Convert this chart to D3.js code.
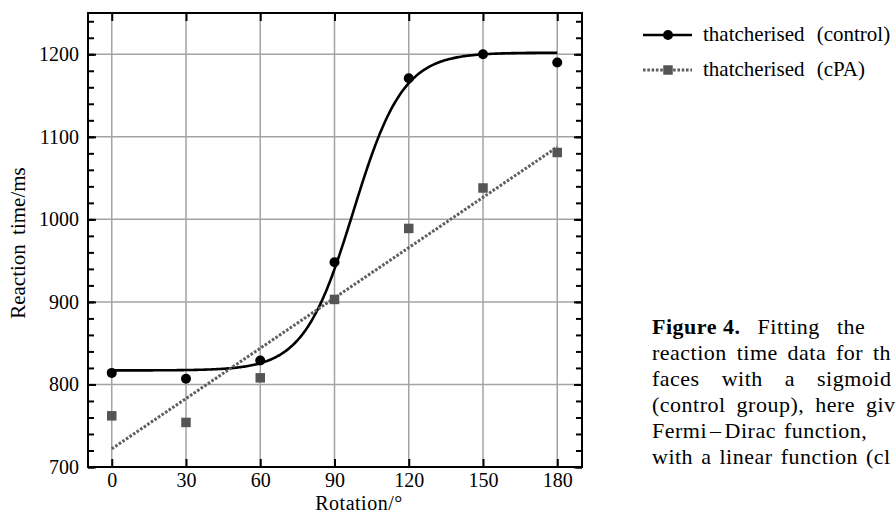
<!DOCTYPE html>
<html>
<head>
<meta charset="utf-8">
<script src="https://cdn.jsdelivr.net/npm/d3@7"></script>
<style>
  html, body { margin: 0; padding: 0; background: #fff; }
  svg { display: block; }
  svg text { font-family: "Liberation Serif", "DejaVu Serif", serif; fill: #000; }
</style>
</head>
<body>
<svg id="chart" width="896" height="517"></svg>
<script>
// ---- data ----
const rotations = [0, 30, 60, 90, 120, 150, 180];
const controlRT = [814, 807, 829, 948, 1171, 1200, 1190];
const cpaRT     = [762, 754, 808, 903, 989, 1038, 1081];
const xTicks = [0, 30, 60, 90, 120, 150, 180];
const yTicks = [700, 800, 900, 1000, 1100, 1200];
const seriesNames = ["thatcherised (control)", "thatcherised (cPA)"];
// Fermi–Dirac fit (control): base, top, midpoint, width
const fdFit = { base: 817, top: 1202, x0: 97.6, w: 10 };
// linear fit (cPA): intercept, slope
const linFit = { a: 722, b: 2.031 };
// caption lines (justified column, clipped by the right edge): words, where the last word starts
const captionLines = [
  { words: ["Figure 4.", "Fitting", "the"], last: 837, bold: 1 },
  { words: ["reaction", "time", "data", "for", "th"], last: 873 },
  { words: ["faces", "with", "a", "sigmoid"], last: 817 },
  { words: ["(control", "group),", "here", "giv"], last: 866 },
  { words: ["Fermi", "\u2013", "Dirac", "function,"], last: 784, tight: [1, 2] },
  { words: ["with", "a", "linear", "function", "(cl"], last: 866 }
];

const svg = d3.select("#chart");
const L = 88, R = 582, T = 13, B = 467;
const x = d3.scaleLinear().domain([-10, 190]).range([87, 582]);
const y = d3.scaleLinear().domain([700, 1250]).range([B, T]);

// grid
const grid = svg.append("g").attr("stroke", "#a3a3a3").attr("stroke-width", 1.5);
grid.selectAll("line.v").data(xTicks).join("line")
  .attr("x1", d => x(d)).attr("x2", d => x(d)).attr("y1", T).attr("y2", B);
grid.selectAll("line.h").data(yTicks.filter(d => d > 700)).join("line")
  .attr("x1", L).attr("x2", R).attr("y1", d => y(d)).attr("y2", d => y(d));

// axes with inward ticks
const fs = 20;
const fmt = d3.format("d");
const xAxisB = d3.axisBottom(x).tickValues(xTicks).tickSize(-8).tickPadding(6).tickFormat(fmt);
const xAxisT = d3.axisTop(x).tickValues(xTicks).tickSize(-8).tickFormat("");
const yMinor = d3.range(700, 1251, 20);
const yAxisL = d3.axisLeft(y).tickValues(yTicks).tickSize(-8).tickPadding(9).tickFormat(fmt);
const yAxisLm = d3.axisLeft(y).tickValues(yMinor).tickSize(-6).tickFormat("");
const yAxisR = d3.axisRight(y).tickValues(yTicks).tickSize(-8).tickFormat("");
const yAxisRm = d3.axisRight(y).tickValues(yMinor).tickSize(-6).tickFormat("");

function style(g) {
  g.attr("font-family", null).attr("font-size", null);
  g.select(".domain").remove();
  g.selectAll(".tick line").attr("stroke", "#000").attr("stroke-width", 2);
  g.selectAll("text").attr("fill", "#000").style("font-size", fs + "px");
}
svg.append("g").attr("transform", `translate(0,${B})`).call(xAxisB).call(style);
svg.append("g").attr("transform", `translate(0,${T})`).call(xAxisT).call(style);
svg.append("g").attr("transform", `translate(${L},0)`).call(yAxisL).call(style);
svg.append("g").attr("transform", `translate(${L},0)`).call(yAxisLm).call(style);
svg.append("g").attr("transform", `translate(${R},0)`).call(yAxisR).call(style);
svg.append("g").attr("transform", `translate(${R},0)`).call(yAxisRm).call(style);

// frame
svg.append("rect").attr("x", L).attr("y", T).attr("width", R - L).attr("height", B - T)
  .attr("fill", "none").attr("stroke", "#000").attr("stroke-width", 2);

// fits
const fdSamples = d3.range(0, 180.01, 0.5);
const fd = t => fdFit.base + (fdFit.top - fdFit.base) / (1 + Math.exp((fdFit.x0 - t) / fdFit.w));
const line = d3.line().x(d => x(d[0])).y(d => y(d[1]));
svg.append("path").datum(fdSamples.map(t => [t, fd(t)]))
  .attr("d", line).attr("fill", "none").attr("stroke", "#000").attr("stroke-width", 2.6);
svg.append("path").datum([0, 180].map(t => [t, linFit.a + linFit.b * t]))
  .attr("d", line).attr("fill", "none").attr("stroke", "#5e5e5e")
  .attr("stroke-width", 3).attr("stroke-dasharray", "2.6,1.7");

// points
const sq = 9.5;
svg.append("g").selectAll("rect").data(rotations).join("rect")
  .attr("x", (d) => x(d) - sq / 2).attr("y", (d, i) => y(cpaRT[i]) - sq / 2)
  .attr("width", sq).attr("height", sq).attr("fill", "#555");
svg.append("g").selectAll("circle").data(rotations).join("circle")
  .attr("cx", d => x(d)).attr("cy", (d, i) => y(controlRT[i])).attr("r", 5).attr("fill", "#000");

// axis titles
svg.append("text").attr("x", 359).attr("y", 510).attr("text-anchor", "middle")
  .style("font-size", "20px").style("letter-spacing", "0.5px").text("Rotation/\u00b0");
svg.append("text").attr("transform", "translate(25,243) rotate(-90)").attr("text-anchor", "middle")
  .style("font-size", "21px").style("word-spacing", "4px").text("Reaction time/ms");

// legend
const lg = svg.append("g");
const ly = [35, 70];
lg.append("line").attr("x1", 643).attr("x2", 692).attr("y1", ly[0]).attr("y2", ly[0])
  .attr("stroke", "#000").attr("stroke-width", 2.6);
lg.append("circle").attr("cx", 668).attr("cy", ly[0]).attr("r", 5).attr("fill", "#000");
lg.append("line").attr("x1", 643).attr("x2", 692).attr("y1", ly[1]).attr("y2", ly[1])
  .attr("stroke", "#5e5e5e").attr("stroke-width", 3).attr("stroke-dasharray", "2.6,1.7");
lg.append("rect").attr("x", 668 - sq / 2).attr("y", ly[1] - sq / 2).attr("width", sq).attr("height", sq).attr("fill", "#555");
lg.selectAll("text").data(seriesNames).join("text")
  .attr("x", 703).attr("y", (d, i) => ly[i] + 6).style("font-size", "21px")
  .style("word-spacing", "7px").text(d => d);

// caption: justified lines, gaps spread so the last visible word starts where it does in the reference
const capX = 652;
const cap = svg.append("g");
captionLines.forEach((ln, i) => {
  const t = cap.append("text").attr("y", 334 + i * 26).style("font-size", "22px")
    .style("letter-spacing", "0.5px");
  const spans = ln.words.map((w, j) => t.append("tspan")
    .style("font-weight", ln.bold && j < ln.bold ? "bold" : "normal").text(w));
  const widths = spans.map(s => s.node().getComputedTextLength());
  const tight = ln.tight || [];
  const tightGap = 3;
  const n = ln.words.length - 1;
  let fixed = 0, nFree = 0;
  for (let j = 0; j < n; j++) {
    fixed += widths[j];
    if (tight.includes(j + 1)) fixed += tightGap; else nFree++;
  }
  const gap = (ln.last - capX - fixed) / nFree;
  let cx = capX;
  spans.forEach((s, j) => {
    s.attr("x", cx);
    cx += widths[j] + (tight.includes(j + 1) ? tightGap : gap);
  });
});
</script>
</body>
</html>
